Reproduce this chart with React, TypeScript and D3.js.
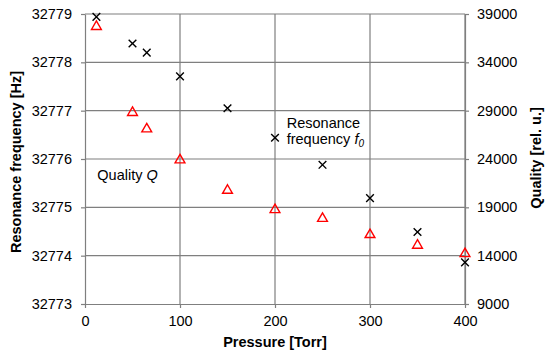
import React, { useEffect, useRef } from 'react';
import * as d3 from 'd3';

const pressure = [12, 50, 65, 100, 150, 200, 250, 300, 350, 400];
const frequency = [32778.94, 32778.39, 32778.2, 32777.71, 32777.05, 32776.44, 32775.88, 32775.19, 32774.49, 32773.86];
const quality = [37800, 28900, 27200, 24000, 20850, 18850, 17950, 16270, 15170, 14300];

const xTicks = [0, 100, 200, 300, 400];
const freqTicks = [32773, 32774, 32775, 32776, 32777, 32778, 32779];
const qualTicks = [9000, 14000, 19000, 24000, 29000, 34000, 39000];

const App: React.FC = () => {
  const svgRef = useRef<SVGSVGElement>(null);

  useEffect(() => {
    if (!svgRef.current) return;
    const W = 550, H = 357;
    const margin = { top: 14, right: 85, bottom: 53, left: 85 };
    const width = W - margin.left - margin.right;
    const height = H - margin.top - margin.bottom;

    const svg = d3.select(svgRef.current);
    svg.selectAll('*').remove();
    const g = svg.append('g').attr('transform', `translate(${margin.left},${margin.top})`);

    const x = d3.scaleLinear().domain([0, 400]).range([0, width]);
    const yF = d3.scaleLinear().domain([32773, 32779]).range([height, 0]);
    const yQ = d3.scaleLinear().domain([9000, 39000]).range([height, 0]);

    const gridColor = '#7f7f7f';
    const font = 'Arial, "Liberation Sans", sans-serif';

    // grid
    g.append('g')
      .selectAll('line')
      .data(freqTicks.slice(1))
      .enter()
      .append('line')
      .attr('x1', 0).attr('x2', width)
      .attr('y1', d => yF(d)).attr('y2', d => yF(d))
      .attr('stroke', gridColor).attr('stroke-width', 1.2);
    g.append('g')
      .selectAll('line')
      .data(xTicks.slice(1))
      .enter()
      .append('line')
      .attr('x1', d => x(d)).attr('x2', d => x(d))
      .attr('y1', 0).attr('y2', height)
      .attr('stroke', gridColor).attr('stroke-width', 1.2);

    // axes
    const styleAxis = (sel: d3.Selection<SVGGElement, unknown, null, undefined>) => {
      sel.select('.domain').attr('stroke', gridColor).attr('stroke-width', 1.2);
      sel.selectAll('.tick line').attr('stroke', gridColor).attr('stroke-width', 1.2);
      sel.selectAll('.tick text')
        .attr('fill', '#000')
        .style('font-family', font)
        .style('font-size', '14.5px');
    };

    g.append('g')
      .attr('transform', `translate(0,${height})`)
      .call(d3.axisBottom(x).tickValues(xTicks).tickSize(4).tickSizeOuter(0).tickPadding(8).tickFormat(d3.format('d')))
      .call(styleAxis);

    g.append('g')
      .call(d3.axisLeft(yF).tickValues(freqTicks).tickSize(4).tickSizeOuter(0).tickPadding(9).tickFormat(d3.format('d')))
      .call(styleAxis);

    g.append('g')
      .attr('transform', `translate(${width},0)`)
      .call(d3.axisRight(yQ).tickValues(qualTicks).tickSize(4).tickSizeOuter(0).tickPadding(8).tickFormat(d3.format('d')))
      .call(styleAxis);

    // quality triangles
    const tri = d3.symbol().type(d3.symbolTriangle).size(42);
    g.append('g')
      .selectAll('path')
      .data(pressure.map((p, i) => ({ p, q: quality[i] })))
      .enter()
      .append('path')
      .attr('d', tri)
      .attr('transform', d => `translate(${x(d.p)},${yQ(d.q) + 1})`)
      .attr('fill', 'none')
      .attr('stroke', '#ff0000')
      .attr('stroke-width', 1.4);

    // frequency crosses
    const cross = d3.symbol().type(d3.symbolX).size(40);
    g.append('g')
      .selectAll('path')
      .data(pressure.map((p, i) => ({ p, f: frequency[i] })))
      .enter()
      .append('path')
      .attr('d', cross)
      .attr('transform', d => `translate(${x(d.p)},${yF(d.f)})`)
      .attr('fill', 'none')
      .attr('stroke', '#000')
      .attr('stroke-width', 1.4);

    // annotations
    const ann = g.append('g').style('font-family', font).style('font-size', '14.5px').attr('fill', '#000');
    const qText = ann.append('text').attr('x', x(13)).attr('y', yF(32775.57));
    qText.append('tspan').text('Quality ');
    qText.append('tspan').attr('font-style', 'italic').text('Q');

    ann.append('text').attr('x', x(251)).attr('y', yF(32776.65)).attr('text-anchor', 'middle').text('Resonance');
    const fText = ann.append('text').attr('x', x(253)).attr('y', yF(32776.32)).attr('text-anchor', 'middle');
    fText.append('tspan').text('frequency ');
    fText.append('tspan').attr('font-style', 'italic').text('f');
    fText.append('tspan').attr('font-style', 'italic').attr('font-size', '10px').attr('dy', 3).text('0');

    // axis titles
    const title = svg.append('g').style('font-family', font).style('font-size', '14.5px').style('font-weight', 'bold').attr('fill', '#000');
    title.append('text')
      .attr('x', margin.left + width / 2)
      .attr('y', 347)
      .attr('text-anchor', 'middle')
      .text('Pressure [Torr]');
    title.append('text')
      .attr('transform', 'translate(21,162) rotate(-90)')
      .attr('text-anchor', 'middle')
      .text('Resonance frequency [Hz]');
    title.append('text')
      .attr('transform', 'translate(541,158) rotate(-90)')
      .attr('text-anchor', 'middle')
      .text('Quality [rel. u.]');
  }, []);

  return <svg ref={svgRef} width={550} height={357} style={{ display: 'block', position: 'absolute', left: 0, top: 0, background: '#fff' }} />;
};

export default App;
